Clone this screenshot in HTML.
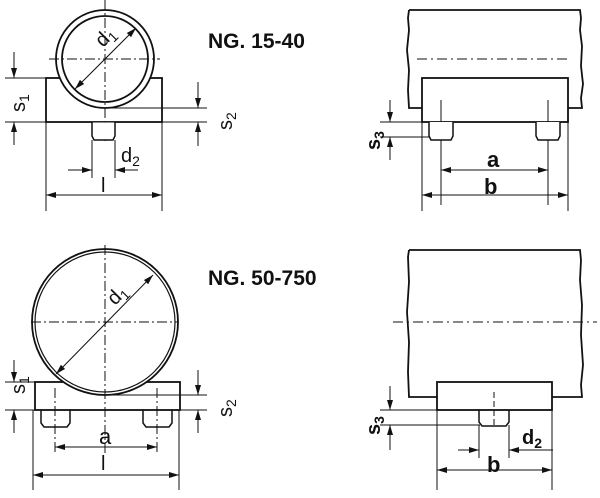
<!DOCTYPE html><html><head><style>body{margin:0;background:#fff}svg{display:block}text{font-family:"Liberation Sans",sans-serif;fill:#111}</style></head><body>
<svg width="600" height="498" viewBox="0 0 600 498" xmlns="http://www.w3.org/2000/svg">
<defs><marker id="a" viewBox="0 0 10 6" refX="10" refY="3" markerWidth="10" markerHeight="6" orient="auto-start-reverse" markerUnits="userSpaceOnUse"><path d="M0,0L10,3L0,6z" fill="#111"/></marker></defs>
<g stroke="#111" fill="none" stroke-width="1">
<!-- TOP LEFT -->
<rect x="46" y="78" width="116" height="44" fill="#fff" stroke-width="1.8"/>
<circle cx="105" cy="59" r="49" fill="#fff" stroke-width="1.8"/>
<circle cx="105" cy="59" r="43" stroke-width="1.8"/>
<line x1="105" y1="0" x2="105" y2="142" stroke-dasharray="10,3,2,3"/>
<line x1="49" y1="59" x2="160" y2="59" stroke-dasharray="10,3,2,3"/>
<path d="M92,122V136l2,4h19l2,-4V122" stroke-width="1.5" fill="#fff"/>
<line x1="75" y1="89" x2="136" y2="28" marker-start="url(#a)" marker-end="url(#a)"/>
<line x1="5" y1="78" x2="46" y2="78"/><line x1="5" y1="122" x2="207" y2="122"/>
<line x1="14" y1="52" x2="14" y2="78" marker-end="url(#a)"/><line x1="14" y1="145" x2="14" y2="122" marker-end="url(#a)"/>
<line x1="108" y1="108" x2="207" y2="108"/>
<line x1="198" y1="82" x2="198" y2="108" marker-end="url(#a)"/><line x1="198" y1="146" x2="198" y2="122" marker-end="url(#a)"/>
<line x1="92" y1="140" x2="92" y2="178"/><line x1="115" y1="140" x2="115" y2="178"/>
<line x1="68" y1="170" x2="92" y2="170" marker-end="url(#a)"/><line x1="138" y1="170" x2="115" y2="170" marker-end="url(#a)"/>
<line x1="46" y1="122" x2="46" y2="211"/><line x1="162" y1="122" x2="162" y2="211"/>
<line x1="46" y1="195" x2="162" y2="195" marker-start="url(#a)" marker-end="url(#a)"/>
<!-- BOTTOM LEFT -->
<rect x="35" y="382" width="145" height="28" fill="#fff" stroke-width="1.8"/>
<circle cx="105" cy="322" r="73" fill="#fff" stroke-width="1.8"/>
<circle cx="105" cy="322" r="70" stroke-width="1.2"/>
<line x1="105" y1="245" x2="105" y2="455" stroke-dasharray="10,3,2,3"/>
<line x1="31" y1="322" x2="178" y2="322" stroke-dasharray="10,3,2,3"/>
<path d="M41,410V423l3,4h23l3,-4V410M143,410V423l3,4h23l3,-4V410" stroke-width="1.5"/>
<line x1="55" y1="388" x2="55" y2="453" stroke-dasharray="10,3,2,3"/><line x1="157" y1="388" x2="157" y2="453" stroke-dasharray="10,3,2,3"/>
<line x1="56" y1="374" x2="153" y2="275" marker-start="url(#a)" marker-end="url(#a)"/>
<line x1="5" y1="382" x2="35" y2="382"/><line x1="5" y1="410" x2="207" y2="410"/>
<line x1="14" y1="360" x2="14" y2="382" marker-end="url(#a)"/><line x1="14" y1="433" x2="14" y2="410" marker-end="url(#a)"/>
<line x1="108" y1="395" x2="207" y2="395"/>
<line x1="198" y1="370" x2="198" y2="395" marker-end="url(#a)"/><line x1="198" y1="433" x2="198" y2="410" marker-end="url(#a)"/>
<line x1="55" y1="447" x2="157" y2="447" marker-start="url(#a)" marker-end="url(#a)"/>
<line x1="33" y1="410" x2="33" y2="490"/><line x1="179" y1="410" x2="179" y2="490"/>
<line x1="33" y1="475" x2="179" y2="475" marker-start="url(#a)" marker-end="url(#a)"/>
<!-- TOP RIGHT -->
<path d="M409,10H580L581,18L580,30L582,46L581,66L583,84L581,98L582,108H568" stroke-width="1.8"/>
<path d="M422,108H409L408,90L409,70L407,50L409,30L408,18L409,10" stroke-width="1.8"/>
<line x1="417" y1="59" x2="568" y2="59" stroke-dasharray="10,4,2,4"/>
<rect x="422" y="78" width="146" height="44" stroke-width="1.8" fill="#fff"/>
<line x1="441" y1="100" x2="441" y2="205"/><line x1="548" y1="100" x2="548" y2="205"/>
<path d="M429,122V136l2,4h20l2,-4V122M536,122V136l2,4h20l2,-4V122" stroke-width="1.5" fill="#fff"/>
<line x1="380" y1="122" x2="429" y2="122"/><line x1="380" y1="137" x2="430" y2="137"/>
<line x1="390" y1="100" x2="390" y2="122" marker-end="url(#a)"/><line x1="390" y1="160" x2="390" y2="137" marker-end="url(#a)"/>
<line x1="441" y1="170" x2="548" y2="170" marker-start="url(#a)" marker-end="url(#a)"/>
<line x1="422" y1="122" x2="422" y2="211"/><line x1="568" y1="122" x2="568" y2="211"/>
<line x1="422" y1="195" x2="568" y2="195" marker-start="url(#a)" marker-end="url(#a)"/>
<!-- BOTTOM RIGHT -->
<path d="M409,250H580L581,260L580,280L582,305L581,335L583,365L581,385L582,397H552" stroke-width="1.8"/>
<path d="M437,397H409L408,372L409,342L407,312L409,282L408,257L409,250" stroke-width="1.8"/>
<line x1="393" y1="322" x2="597" y2="322" stroke-dasharray="10,4,2,4"/>
<rect x="437" y="382" width="115" height="28" stroke-width="1.8" fill="#fff"/>
<line x1="494" y1="392" x2="494" y2="425" stroke-dasharray="6,3"/>
<path d="M479,410V422l3,4h24l3,-4V410" stroke-width="1.5"/>
<line x1="380" y1="410" x2="437" y2="410"/><line x1="380" y1="425" x2="480" y2="425"/>
<line x1="390" y1="386" x2="390" y2="410" marker-end="url(#a)"/><line x1="390" y1="450" x2="390" y2="425" marker-end="url(#a)"/>
<line x1="479" y1="425" x2="479" y2="458"/><line x1="509" y1="425" x2="509" y2="458"/>
<line x1="458" y1="450" x2="479" y2="450" marker-end="url(#a)"/><line x1="553" y1="450" x2="509" y2="450" marker-end="url(#a)"/>
<line x1="437" y1="410" x2="437" y2="490"/><line x1="552" y1="410" x2="552" y2="490"/>
<line x1="437" y1="470" x2="552" y2="470" marker-start="url(#a)" marker-end="url(#a)"/>
</g>
<g font-size="21" font-weight="bold">
<text x="208" y="48">NG. 15-40</text>
<text x="208" y="285">NG. 50-750</text>
</g>
<g font-size="20">
<text transform="translate(25,112) rotate(-90)">s<tspan font-size="14" dy="4">1</tspan></text>
<text transform="translate(232,130) rotate(-90)">s<tspan font-size="14" dy="4">2</tspan></text>
<text transform="translate(103,48) rotate(-45)">d<tspan font-size="14" dy="4">1</tspan></text>
<text x="121" y="162">d<tspan font-size="14" dy="4">2</tspan></text>
<text x="101" y="192">l</text>
<text transform="translate(25,394) rotate(-90)">s<tspan font-size="14" dy="4">1</tspan></text>
<text transform="translate(232,417) rotate(-90)">s<tspan font-size="14" dy="4">2</tspan></text>
<text transform="translate(115,306) rotate(-45)">d<tspan font-size="14" dy="4">1</tspan></text>
<text x="99" y="444" font-size="22">a</text>
<text x="101" y="470">l</text>
<text transform="translate(380,150) rotate(-90)" font-weight="bold">s<tspan font-size="14" dy="4">3</tspan></text>
<text x="487" y="167" font-size="22" font-weight="bold">a</text>
<text x="484" y="194" font-size="22" font-weight="bold">b</text>
<text transform="translate(380,435) rotate(-90)" font-weight="bold">s<tspan font-size="14" dy="4">3</tspan></text>
<text x="522" y="444" font-weight="bold">d<tspan font-size="14" dy="4">2</tspan></text>
<text x="487" y="472" font-size="22" font-weight="bold">b</text>
</g>
</svg></body></html>
